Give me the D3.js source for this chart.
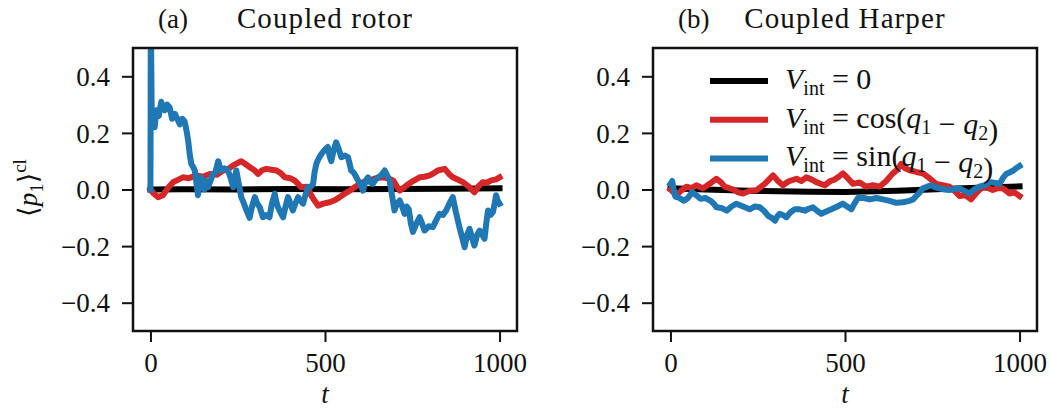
<!DOCTYPE html>
<html>
<head>
<meta charset="utf-8">
<script src="https://cdn.jsdelivr.net/npm/d3@7"></script>
<style>
  body { margin: 0; background: #fff; }
  text { font-family: "Liberation Serif", "DejaVu Serif", serif; fill: #111; }
</style>
</head>
<body>
<svg id="chart" width="1050" height="409"></svg>
<script>
// tick values shared by both panels
const xTicks = [0, 500, 1000];
const yTicks = [-0.4, -0.2, 0, 0.2, 0.4];

// (a) coupled rotor, [t, <p1>]
const rotorZero = [[0, 0], [100, 0.001], [250, 0.0], [400, 0.002], [550, 0.001], [700, 0.002], [850, 0.003], [1000, 0.004]];
const rotorCos = [
  [0, 0], [10, -0.015], [22, -0.027], [36, -0.02], [50, 0.005], [65, 0.026], [80, 0.035], [93, 0.043],
  [110, 0.04], [132, 0.05], [150, 0.045], [170, 0.055], [190, 0.052], [208, 0.067], [222, 0.072],
  [237, 0.085], [260, 0.1], [272, 0.09], [284, 0.079], [296, 0.07], [308, 0.055], [320, 0.068],
  [332, 0.073], [347, 0.07], [361, 0.067], [373, 0.058], [385, 0.043], [400, 0.04], [413, 0.032],
  [432, 0.008], [450, 0.01], [460, -0.02], [470, -0.039], [480, -0.057], [495, -0.05], [513, -0.045],
  [528, -0.038], [542, -0.027], [556, -0.015], [571, -0.004], [585, 0.008], [599, 0.02], [614, 0.028],
  [628, 0.032], [647, 0.04], [666, 0.043], [680, 0.04], [695, 0.032], [705, 0.012], [714, -0.004],
  [733, 0.014], [752, 0.03], [771, 0.043], [785, 0.045], [800, 0.05], [812, 0.058], [823, 0.067],
  [843, 0.073], [855, 0.055], [866, 0.043], [880, 0.035], [895, 0.026], [912, 0.01], [928, -0.01],
  [940, 0.012], [952, 0.026], [964, 0.024], [976, 0.032], [990, 0.036], [1000, 0.043]
];
const rotorSin = [
  [0, 0], [1, 0.62], [4, 0.22], [12, 0.22], [17, 0.28], [24, 0.26], [31, 0.31], [36, 0.29], [41, 0.28],
  [48, 0.3], [55, 0.29], [62, 0.25], [70, 0.267], [77, 0.25], [84, 0.23], [91, 0.25], [98, 0.24],
  [103, 0.21], [108, 0.173], [113, 0.12], [117, 0.09], [122, 0.08], [127, 0.067], [131, 0.03],
  [136, -0.02], [141, 0.02], [146, 0.043], [150, 0.02], [155, 0.0], [160, 0.03], [165, 0.008],
  [172, 0.03], [179, 0.055], [186, 0.06], [194, 0.1], [199, 0.08], [203, 0.067], [212, 0.075],
  [222, 0.067], [230, 0.04], [237, 0.008], [241, 0.04], [246, 0.067], [253, 0.02], [260, -0.027],
  [268, -0.05], [275, -0.074], [284, -0.1], [291, -0.06], [299, -0.027], [306, -0.05], [313, -0.062],
  [322, -0.098], [331, -0.09], [341, -0.098], [348, -0.05], [356, -0.015], [360, -0.04], [365, -0.062],
  [372, -0.08], [380, -0.098], [387, -0.06], [394, -0.027], [401, -0.05], [408, -0.074], [415, -0.05],
  [423, -0.027], [430, -0.04], [437, -0.05], [444, -0.02], [451, 0.008], [459, 0.01], [466, 0.02],
  [470, 0.06], [475, 0.09], [482, 0.11], [490, 0.126], [499, 0.14], [508, 0.15], [513, 0.12],
  [518, 0.1], [525, 0.14], [532, 0.167], [540, 0.14], [547, 0.114], [556, 0.12], [566, 0.114],
  [575, 0.067], [582, 0.06], [590, 0.043], [600, 0.02], [609, -0.004], [616, 0.03], [623, 0.043],
  [630, 0.025], [637, 0.02], [645, 0.035], [652, 0.043], [661, 0.05], [671, 0.067], [678, 0.05],
  [685, 0.032], [692, -0.02], [699, -0.074], [706, -0.05], [714, -0.039], [721, -0.06], [728, -0.086],
  [734, -0.06], [740, -0.07], [746, -0.12], [752, -0.15], [762, -0.12], [771, -0.098], [778, -0.12],
  [785, -0.145], [797, -0.13], [809, -0.133], [818, -0.11], [828, -0.086], [838, -0.09], [847, -0.074],
  [856, -0.05], [866, -0.027], [875, -0.08], [885, -0.133], [893, -0.17], [900, -0.204], [907, -0.16],
  [914, -0.139], [921, -0.17], [928, -0.198], [936, -0.16], [943, -0.145], [950, -0.16], [957, -0.174],
  [962, -0.12], [967, -0.074], [974, -0.09], [981, -0.08], [986, -0.05], [990, -0.02], [995, -0.04],
  [1000, -0.05]
];

// (b) coupled Harper
const harperZero = [[0, 0.004], [100, 0.0], [250, -0.005], [400, -0.008], [500, -0.009], [650, -0.004], [800, 0.003], [900, 0.007], [1000, 0.011]];
const harperCos = [
  [0, 0], [17, -0.02], [30, -0.005], [46, 0.01], [60, 0.005], [74, 0.015], [93, 0.004], [112, 0.02],
  [132, 0.038], [145, 0.025], [155, 0.01], [180, 0.0], [194, -0.01], [208, -0.014], [226, -0.005],
  [246, -0.003], [270, 0.02], [282, 0.035], [294, 0.05], [308, 0.03], [322, 0.015], [340, 0.03],
  [361, 0.038], [375, 0.03], [389, 0.043], [405, 0.035], [418, 0.026], [430, 0.02], [442, 0.015],
  [458, 0.03], [470, 0.035], [482, 0.045], [494, 0.057], [508, 0.04], [523, 0.02], [542, 0.025],
  [561, 0.01], [580, 0.015], [599, 0.01], [618, 0.03], [637, 0.057], [650, 0.07], [661, 0.09],
  [672, 0.075], [685, 0.068], [704, 0.062], [723, 0.057], [742, 0.04], [761, 0.02], [780, 0.015],
  [799, 0.01], [814, -0.005], [828, -0.023], [845, -0.02], [861, -0.035], [878, -0.01], [895, 0.01],
  [910, 0.005], [923, -0.002], [938, 0.005], [952, 0.004], [962, -0.005], [971, -0.014], [985, -0.01],
  [1000, -0.023]
];
const harperSin = [
  [0, 0.02], [5, 0.03], [9, 0.0], [14, -0.025], [26, -0.03], [38, -0.04], [50, -0.03], [62, -0.01],
  [74, -0.02], [86, -0.033], [100, -0.03], [115, -0.04], [124, -0.05], [132, -0.063], [146, -0.065],
  [161, -0.075], [175, -0.06], [189, -0.05], [208, -0.06], [227, -0.07], [242, -0.06], [256, -0.063],
  [268, -0.075], [280, -0.093], [290, -0.1], [299, -0.11], [306, -0.095], [313, -0.086], [322, -0.09],
  [332, -0.098], [344, -0.08], [356, -0.07], [370, -0.07], [385, -0.075], [396, -0.068], [408, -0.063],
  [420, -0.075], [432, -0.086], [446, -0.078], [461, -0.07], [478, -0.06], [494, -0.05], [506, -0.06],
  [518, -0.07], [527, -0.05], [537, -0.03], [554, -0.03], [571, -0.035], [590, -0.03], [609, -0.035],
  [628, -0.04], [647, -0.047], [666, -0.045], [685, -0.04], [695, -0.035], [704, -0.023], [714, -0.01],
  [723, 0.004], [735, 0.01], [747, 0.015], [759, 0.008], [771, 0.004], [785, 0.0], [799, -0.002],
  [814, 0.002], [828, 0.004], [842, -0.005], [856, -0.014], [870, 0.0], [885, 0.01], [900, 0.015],
  [914, 0.026], [928, 0.024], [943, 0.02], [952, 0.04], [962, 0.055], [971, 0.06], [981, 0.066],
  [990, 0.075], [1000, 0.083]
];

const colors = { zero: '#000000', cos: '#d62728', sin: '#1f77b4' };

const panels = [
  { key: 'a', label: '(a)', title: 'Coupled rotor', left: 133, series: [rotorZero, rotorCos, rotorSin] },
  { key: 'b', label: '(b)', title: 'Coupled Harper', left: 653, series: [harperZero, harperCos, harperSin] }
];

const svg = d3.select('#chart');
const plotW = 384, plotTop = 48, plotBottom = 331;
const fontSize = 27;

panels.forEach(function(p) {
  const x = d3.scaleLinear().domain([-50, 1050]).range([p.left, p.left + plotW]);
  const y = d3.scaleLinear().domain([-0.5, 0.5]).range([plotBottom, plotTop]);

  svg.append('clipPath').attr('id', 'clip-' + p.key)
    .append('rect')
    .attr('x', p.left).attr('y', plotTop)
    .attr('width', plotW).attr('height', plotBottom - plotTop);

  const line = d3.line()
    .x(function(d) { return x(d[0]); })
    .y(function(d) { return y(d[1]); });

  const g = svg.append('g').attr('clip-path', 'url(#clip-' + p.key + ')');
  const keys = ['zero', 'cos', 'sin'];
  p.series.forEach(function(s, i) {
    g.append('path')
      .attr('d', line(s))
      .attr('fill', 'none')
      .attr('stroke', colors[keys[i]])
      .attr('stroke-width', 6)
      .attr('stroke-linejoin', 'round')
      .attr('stroke-linecap', 'square');
  });

  // axes
  const xAxis = d3.axisBottom(x).tickValues(xTicks).tickSize(11).tickPadding(8).tickFormat(d3.format('d'));
  const yAxis = d3.axisLeft(y).tickValues(yTicks).tickSize(11).tickPadding(12).tickFormat(d3.format('.1f'));

  const gx = svg.append('g').attr('transform', 'translate(0,' + plotBottom + ')').call(xAxis);
  const gy = svg.append('g').attr('transform', 'translate(' + p.left + ',0)').call(yAxis);
  [gx, gy].forEach(function(a) {
    a.select('.domain').remove();
    a.selectAll('.tick line').attr('stroke', '#111').attr('stroke-width', 2);
    a.selectAll('.tick text')
      .attr('fill', '#111')
      .style('font-family', '"Liberation Serif", serif')
      .style('font-size', fontSize + 'px');
  });
  gx.selectAll('.tick text').attr('dy', '0.8em');
  gy.selectAll('.tick text').attr('dy', '0.34em');

  svg.append('rect')
    .attr('x', p.left).attr('y', plotTop)
    .attr('width', plotW).attr('height', plotBottom - plotTop)
    .attr('fill', 'none').attr('stroke', '#111').attr('stroke-width', 2.5);

  // titles
  svg.append('text')
    .attr('x', p.left + 25).attr('y', 28)
    .style('font-size', fontSize + 'px')
    .text(p.label);
  svg.append('text')
    .attr('x', p.left + plotW / 2).attr('y', 28)
    .attr('text-anchor', 'middle')
    .style('font-size', '29px')
    .style('letter-spacing', '1.1px')
    .text(p.title);

  // x label
  svg.append('text')
    .attr('x', p.left + plotW / 2).attr('y', 403)
    .attr('text-anchor', 'middle')
    .style('font-size', fontSize + 'px')
    .style('font-style', 'italic')
    .text('t');
});

// y label ⟨p1⟩^cl
const yl = svg.append('text')
  .attr('transform', 'translate(37,188) rotate(-90)')
  .attr('text-anchor', 'middle')
  .style('font-size', fontSize + 'px');
yl.append('tspan').text('\u27E8');
yl.append('tspan').style('font-style', 'italic').text('p');
yl.append('tspan').attr('dy', 6).style('font-size', '19px').text('1');
yl.append('tspan').attr('dy', -6).text('\u27E9');
yl.append('tspan').attr('dy', -11).style('font-size', '19px').text('cl');

// legend in panel (b)
const legendRows = [
  { key: 'zero', parts: [['', '= 0']] },
  { key: 'cos', parts: [['', '= cos('], ['q', ''], ['1', 'sub'], [' \u2212 ', ''], ['q', ''], ['2', 'sub'], [')', '']] },
  { key: 'sin', parts: [['', '= sin('], ['q', ''], ['1', 'sub'], [' \u2212 ', ''], ['q', ''], ['2', 'sub'], [')', '']] }
];
const legend = svg.append('g');
legendRows.forEach(function(r, i) {
  const ly = 81 + i * 38.7;
  legend.append('line')
    .attr('x1', 710).attr('x2', 768)
    .attr('y1', ly).attr('y2', ly)
    .attr('stroke', colors[r.key]).attr('stroke-width', 6);
  const t = legend.append('text')
    .attr('x', 785).attr('y', ly + 8)
    .style('font-size', '30px');
  t.append('tspan').style('font-style', 'italic').text('V');
  t.append('tspan').attr('dy', 6).style('font-size', '20px').text('int');
  t.append('tspan').attr('dy', -6).text(' ');
  r.parts.forEach(function(pt) {
    if (pt[1] === 'sub') {
      t.append('tspan').attr('dy', 6).style('font-size', '20px').text(pt[0]);
      t.append('tspan').attr('dy', -6).text('');
    } else if (pt[0] === 'q') {
      t.append('tspan').style('font-style', 'italic').text('q');
    } else {
      t.append('tspan').text(pt[0] || pt[1]);
    }
  });
});
</script>
</body>
</html>
